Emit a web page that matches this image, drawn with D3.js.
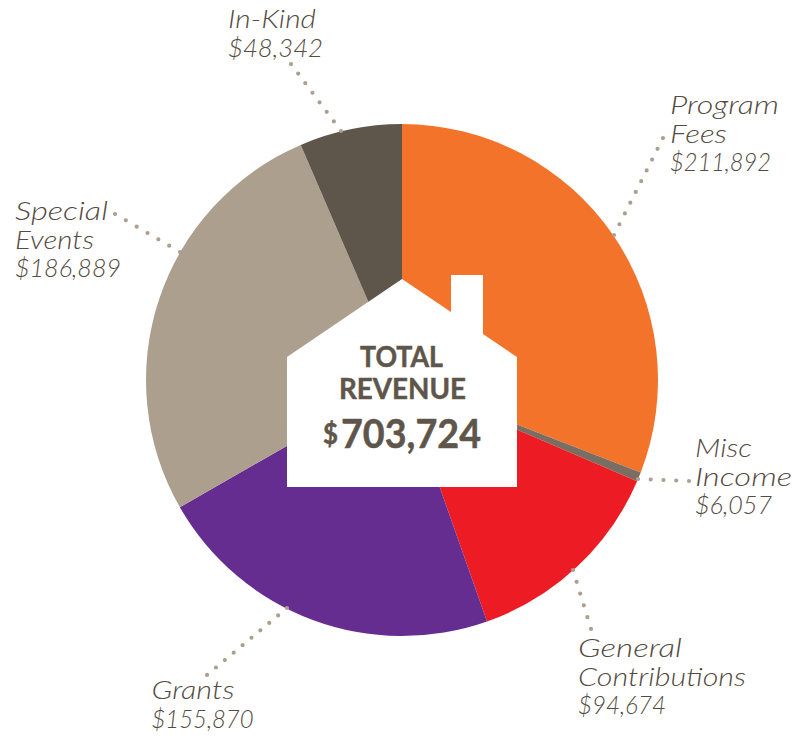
<!DOCTYPE html>
<html><head><meta charset="utf-8">
<script src="https://cdn.jsdelivr.net/npm/d3@7/dist/d3.min.js"></script>
<style>html,body{margin:0;background:#fff}svg{display:block}</style>
</head><body><svg width="798" height="739"></svg>
<script>
const categories = [["Program","Fees"],["Misc","Income"],["General","Contributions"],["Grants"],["Special","Events"],["In-Kind"]];
const amounts = [211892,6057,94674,155870,186889,48342];
// Slice sweeps in degrees
const sweeps = [111.2,2.1,47.3,79.6,96.5,23.3];
const colors = ["#f4732a","#7a6e62","#ed1c24","#652d90","#ad9f8e","#5f564b"];
const total = 703724;
const money = d3.format("$,");

const cx=402, cy=380, R=256;
const svg=d3.select("svg");
const ink="#5f564b";
const pie=d3.pie().sort(null).value(d=>d)(sweeps);
const arc=d3.arc().innerRadius(0).outerRadius(R);
const g=svg.append("g").attr("transform",`translate(${cx},${cy})`);
g.selectAll("path").data(pie).join("path").attr("d",arc).attr("fill",(d,i)=>colors[i]);

// layout: x1,y1,x2,y2,number of gaps between dots
const leaders=[[614,235,663,138,9],[638,479,689,481,4],[573,570,591,629,5],[287,608,207,675,9],[180,252,115,214,6],[341,131,291,64,7]];
svg.selectAll("line.l").data(leaders).join("line").attr("class","l")
 .attr("x1",d=>d[0]).attr("y1",d=>d[1]).attr("x2",d=>d[2]).attr("y2",d=>d[3])
 .attr("stroke","#ad9f8e").attr("stroke-width",4.2).attr("stroke-linecap","round")
 .attr("stroke-dasharray",d=>`0 ${(Math.hypot(d[2]-d[0],d[3]-d[1])/d[4]-0.01).toFixed(3)}`);

const house=[[402,279],[451,312],[451,275],[483,275],[483,334],[517,357],[517,487],[287,487],[287,357]];
svg.append("path").attr("d",d3.line()(house)+"Z").attr("fill","#fff");

// layout: x, first baseline, width of each line
const labelPos=[[670,114],[695,457],[578,657],[151.5,699],[15,220],[228,28]];
const lineWidths=[[109,57,101],[57,97,77],[104,168,88],[83,102],[93,79,106],[88,95]];
const lh=28.5;
svg.selectAll("text.lab").data(categories).join("text").attr("class","lab")
 .attr("font-family","Lato").attr("font-style","italic").attr("font-weight",300).attr("font-size",25.5).attr("fill","#544b41")
 .each(function(c,i){
   const t=d3.select(this);
   [...c,money(amounts[i])].forEach((s,k)=>t.append("tspan").attr("x",labelPos[i][0]).attr("y",labelPos[i][1]+k*lh)
     .attr("textLength",lineWidths[i][k]).attr("lengthAdjust","spacingAndGlyphs").text(s));
 });

const center=svg.append("g").attr("font-family","Lato").attr("font-weight",700).attr("fill",ink).attr("stroke",ink).attr("stroke-width",0.5);
center.append("text").attr("x",360).attr("y",367).attr("font-size",29).attr("textLength",83).attr("lengthAdjust","spacingAndGlyphs").text("TOTAL");
center.append("text").attr("x",339).attr("y",399).attr("font-size",29).attr("textLength",127).attr("lengthAdjust","spacingAndGlyphs").text("REVENUE");
center.append("text").attr("x",323).attr("y",444).attr("font-size",28).attr("textLength",15).attr("lengthAdjust","spacingAndGlyphs").text("$");
center.append("text").attr("x",341).attr("y",448).attr("font-size",40).attr("textLength",140).attr("lengthAdjust","spacingAndGlyphs").text(d3.format(",")(total));
</script></body></html>
